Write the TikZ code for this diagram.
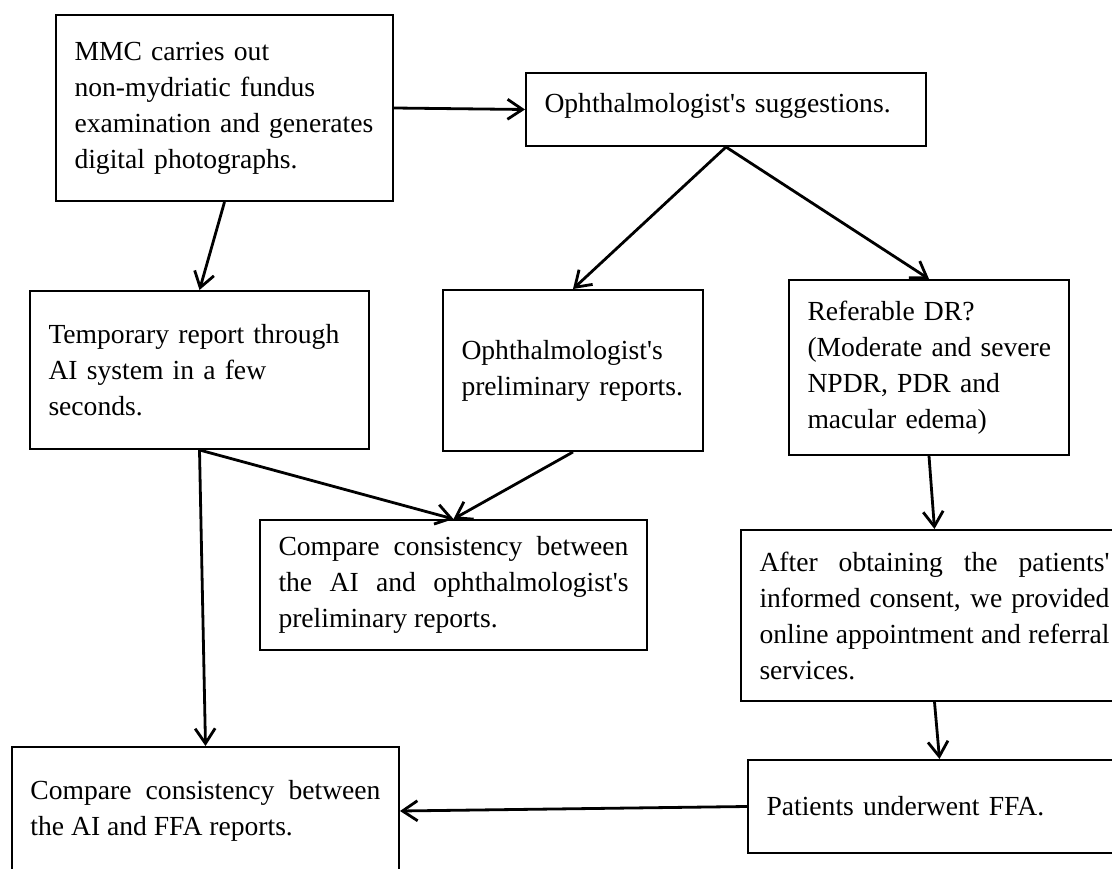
\documentclass[tikz,border=0pt]{standalone}
\usepackage{fontspec}
\setmainfont{Liberation Serif}
\usetikzlibrary{arrows.meta}
\newcommand{\aq}{\textquotesingle}
\tikzset{
  box/.style={draw=black, line width=2pt, rectangle, inner xsep=18.5pt, inner ysep=0pt,
    font=\fontsize{27.6}{36}\selectfont, anchor=north west},
  rag/.style={align=left},
  just/.style={align=justify},
  arr/.style={line width=2.8pt, -{Straight Barb[length=15pt, width=20pt, line width=2.8pt]}},
}
\begin{document}
\begin{tikzpicture}[x=1pt, y=-1pt]
\useasboundingbox (0,0) rectangle (1112,869);
\fill[white] (0,0) rectangle (1112,869);
\clip (0,0) rectangle (1112,869);
% boxes: top-left at (x1,y1), size W x H, text width W-37
\node[box, rag, minimum width=337pt, minimum height=186pt, text width=300pt] (b1) at (55,14)
  {\mbox{MMC carries out}\\\mbox{non-mydriatic fundus}\\\mbox{examination and generates}\\\mbox{digital photographs.}};
\node[box, rag, minimum width=400pt, minimum height=73pt, text width=363pt] (b2) at (525,72)
  {\raisebox{14pt}{Ophthalmologist\aq s suggestions.}};
\node[box, rag, minimum width=339pt, minimum height=158pt, text width=302pt] (b3) at (29,290)
  {\mbox{Temporary report through}\\\mbox{AI system in a few}\\\mbox{seconds.}};
\node[box, rag, minimum width=260pt, minimum height=161pt, text width=223pt] (b4) at (442,289)
  {\mbox{Ophthalmologist\aq s}\\\mbox{preliminary reports.}};
\node[box, rag, minimum width=280pt, minimum height=175pt, text width=243pt] (b5) at (788,279)
  {\mbox{Referable DR?}\\\mbox{(Moderate and severe}\\\mbox{NPDR, PDR and}\\\mbox{macular edema)}};
\node[box, just, minimum width=387pt, minimum height=130pt, text width=350pt] (b6) at (259,519)
  {Compare consistency between\linebreak the AI and ophthalmologist\aq s\linebreak preliminary reports.};
\node[box, just, minimum width=387pt, minimum height=171pt, text width=350pt] (b7) at (740,529)
  {After obtaining the patients\aq\linebreak informed consent, we provided\linebreak online appointment and referral\linebreak services.};
\node[box, just, minimum width=387pt, minimum height=128pt, text width=350pt] (b8) at (11,746)
  {Compare consistency between\linebreak the AI and FFA reports.};
\node[box, rag, minimum width=383pt, minimum height=93pt, text width=346pt] (b9) at (747,759)
  {\mbox{Patients underwent FFA.}};
% connectors
\draw[arr] (b1.east) -- (b2.west);
\draw[arr] (b1.south) -- (b3.north);
\draw[arr] (b2.south) -- (b4.north);
\draw[arr] (b2.south) -- (b5.north);
\draw[arr] (b3.south) -- (b6.north);
\draw[arr] (b4.south) -- (b6.north);
\draw[arr] (b3.south) -- (b8.north);
\draw[arr] (b5.south) -- (b7.north);
\draw[arr] (b7.south) -- (b9.north);
\draw[arr] (b9.west) -- (b8.east);
\end{tikzpicture}
\end{document}
